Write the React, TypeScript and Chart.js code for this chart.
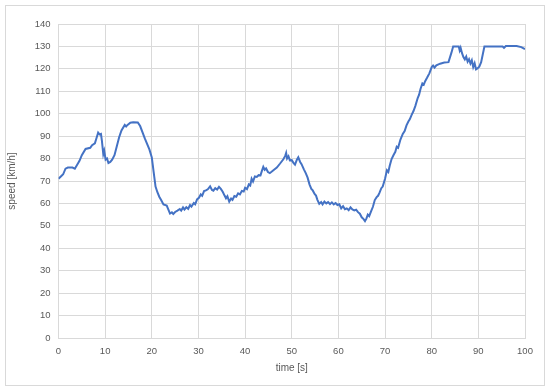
import React, { useEffect, useRef } from "react";
import { Chart, registerables } from "chart.js";

Chart.register(...registerables);

const times = [
  0, 0.5, 1, 1.5, 2, 3, 3.5, 4.5, 5, 5.8, 6.8, 7.2, 7.8, 8.2, 8.5, 8.8, 9.1, 9.3, 9.6, 9.8,
  10.1, 10.4, 10.7, 11.1, 11.5, 12, 12.5, 13, 13.5, 14.2, 14.5, 14.8, 15.4, 16, 17, 17.5, 18.5, 19.5,
  20, 20.4, 20.8, 21.2, 21.6, 22, 22.5, 23.2, 23.6, 23.9, 24.3, 24.6, 25, 25.5, 26, 26.3, 26.7, 27,
  27.4, 27.8, 28.2, 28.5, 29, 29.3, 29.7, 30.1, 30.5, 30.8, 31.2, 31.6, 32, 32.5, 32.9, 33.2, 33.6,
  34, 34.4, 34.8, 35.2, 35.6, 35.9, 36.2, 36.6, 37, 37.3, 37.7, 38.1, 38.5, 38.9, 39.3, 39.7, 40,
  40.4, 40.8, 41.1, 41.4, 41.7, 42.1, 42.5, 42.9, 43.3, 43.6, 43.9, 44.2, 44.5, 44.9, 45.3, 46, 46.8,
  47.5, 48.2, 48.6, 48.8, 49, 49.3, 49.6, 50, 50.4, 50.7, 51.1, 51.4, 51.8, 52.1, 52.6, 53, 53.4,
  53.8, 54.2, 54.5, 54.9, 55.2, 55.5, 55.9, 56.3, 56.6, 57, 57.4, 57.8, 58.2, 58.6, 59, 59.4, 59.8,
  60.2, 60.6, 61, 61.4, 61.8, 62.2, 62.6, 63, 63.4, 63.8, 64.2, 64.6, 65, 65.4, 65.7, 66, 66.3, 66.6,
  67, 67.4, 67.8, 68.2, 68.5, 68.8, 69.2, 69.5, 70, 70.4, 70.7, 71, 71.4, 71.8, 72.2, 72.5, 72.8,
  73.3, 73.8, 74.2, 74.6, 75, 75.3, 75.7, 76.1, 76.5, 77, 77.3, 77.6, 78, 78.3, 78.6, 79, 79.5, 80,
  80.3, 80.6, 81, 81.8, 82.7, 83.6, 84.2, 84.6, 85.8, 86, 86.2, 86.5, 86.8, 87.1, 87.4, 87.7, 88,
  88.3, 88.6, 88.9, 89.2, 89.5, 89.8, 90.2, 90.6, 91.3, 95.2, 95.5, 95.9, 98.2, 99.2, 100,
];

const speeds = [
  71, 72, 73, 75.5, 76, 76, 75.5, 79, 81.5, 84.3, 84.8, 86, 86.8, 89.5, 91.6, 90.8, 91, 88, 82, 83.5,
  79.5, 80, 78, 78.5, 79.5, 81.5, 85.5, 89.5, 92.5, 95, 94.3, 95, 96, 96.2, 96.1, 94.5, 89, 84,
  80.5, 74, 67.5, 65, 63, 61.5, 59.5, 59, 57, 55.5, 56, 55.3, 56.2, 56.8, 57.5, 56.8, 58.2, 57.3,
  58.3, 57.6, 59.3, 58.6, 60.2, 59.6, 61.8, 62.5, 64, 63.4, 65.5, 65.8, 66.3, 67.6, 66, 65.7, 66.8,
  66.2, 67.4, 66.5, 65.2, 63.5, 62.3, 63.2, 60.8, 62.2, 61.6, 63.3, 63, 64.5, 64, 65.6, 65.3, 67,
  66.4, 68.5, 68, 71, 69.8, 72, 71.8, 72.6, 72.5, 74.5, 76.3, 75, 75.6, 74, 73.5, 74.7, 76,
  77.8, 79.7, 81.2, 82.5, 80, 81, 79.2, 79.3, 78, 77.3, 79.5, 80.6, 78.5, 77.5, 75.2, 73.5, 71.5,
  68.5, 66.5, 65.8, 64.2, 63.5, 61.6, 59.8, 60.6, 59.6, 60.8, 60, 60.6, 59.7, 60.5, 59.6, 60.2, 59.3,
  59.6, 57.8, 58.8, 57.4, 57.8, 57, 58.2, 57.3, 56.9, 57.2, 56.1, 55.4, 53.8, 53, 52.1, 53.2, 55, 54.3,
  56.5, 58.5, 61.5, 62.8, 63.4, 64.7, 66.8, 67.5, 71, 74.8, 74, 76.8, 79.8, 81.5, 83, 85.3, 84.8,
  88.5, 91, 92.3, 94.8, 96.5, 97.5, 99.5, 101.2, 103.5, 107, 108.5, 111, 113.5, 113, 114.5, 116, 118, 120.8,
  121.5, 120.6, 121.6, 122.3, 122.8, 123, 127, 130, 130, 128.2, 129.4, 127, 125.3, 124.2, 125.5, 123.2, 124.3,
  122.4, 123.8, 120.8, 122.5, 119.8, 120.2, 121, 123, 130, 130, 129.4, 130.2, 130.2, 129.7, 128.8,
];

const xTitle = "time [s]";
const yTitle = "speed [km/h]";

const frame = {
  id: "frame",
  beforeDraw(chart: any) {
    const ctx = chart.ctx;
    ctx.save();
    ctx.fillStyle = "#ffffff";
    ctx.fillRect(0, 0, chart.width, chart.height);
    ctx.strokeStyle = "#d9d9d9";
    ctx.lineWidth = 1;
    ctx.strokeRect(5.5, 5.5, 539, 380);
    ctx.restore();
  },
};

export default function App() {
  const ref = useRef<HTMLCanvasElement>(null);
  useEffect(() => {
    document.body.style.margin = "0";
    const tickFont = { family: "Liberation Sans", size: 9.5 };
    const titleFont = { family: "Liberation Sans", size: 10 };
    const chart = new Chart(ref.current!, {
      type: "line",
      data: {
        datasets: [
          {
            data: times.map((t, i) => ({ x: t, y: speeds[i] })),
            borderColor: "#4472C4",
            borderWidth: 2,
            pointRadius: 0,
            tension: 0,
            fill: false,
          },
        ],
      },
      options: {
        responsive: false,
        animation: false,
        layout: { padding: { left: 0, right: 25, top: 24, bottom: 13 } },
        plugins: { legend: { display: false }, tooltip: { enabled: false } },
        scales: {
          x: {
            type: "linear",
            min: 0,
            max: 100,
            ticks: { stepSize: 10, color: "#595959", font: tickFont, padding: 8, maxRotation: 0 },
            grid: { color: "#d9d9d9", drawTicks: false },
            border: { color: "#d9d9d9" },
            title: { display: true, text: xTitle, color: "#595959", font: titleFont, padding: { top: 0, bottom: 4 } },
            afterFit: (s: any) => {
              s.height = 40;
            },
          },
          y: {
            min: 0,
            max: 140,
            ticks: { stepSize: 10, color: "#595959", font: tickFont, padding: 8 },
            grid: { color: "#d9d9d9", drawTicks: false },
            border: { color: "#d9d9d9" },
            title: { display: true, text: yTitle, color: "#595959", font: titleFont, padding: { top: 6, bottom: 0 } },
            afterFit: (s: any) => {
              s.width = 58.5;
            },
          },
        },
      },
      plugins: [frame],
    });
    return () => chart.destroy();
  }, []);
  return (
    <div style={{ width: 550, height: 391 }}>
      <canvas ref={ref} width={550} height={391} />
    </div>
  );
}
